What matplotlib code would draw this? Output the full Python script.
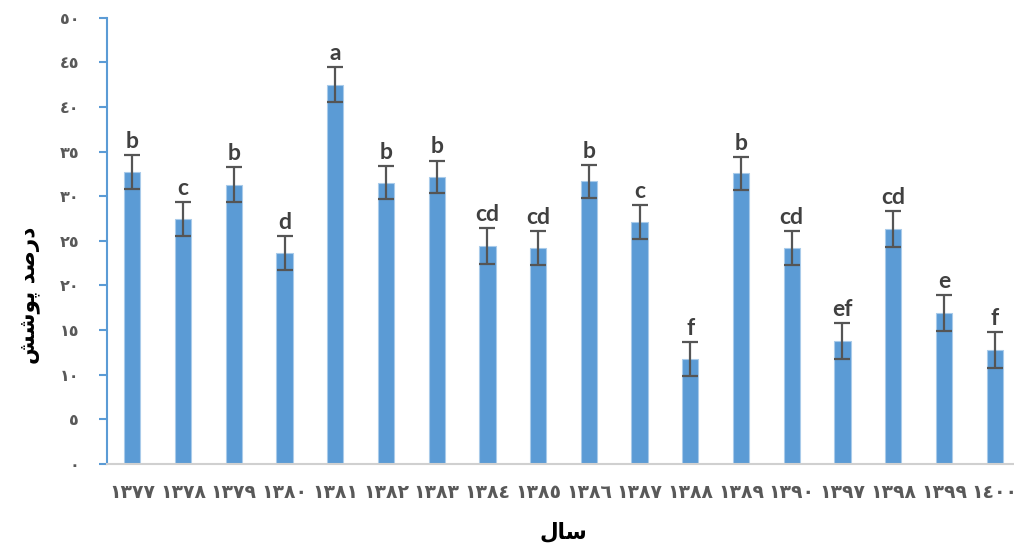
import matplotlib
matplotlib.use("Agg")
import matplotlib.pyplot as plt
import numpy as np

# years as printed on the chart (Arabic-Indic digits)
years = ["١٣٧٧", "١٣٧٨", "١٣٧٩", "١٣٨٠", "١٣٨١", "١٣٨٢", "١٣٨٣", "١٣٨٤", "١٣٨٥",
         "١٣٨٦", "١٣٨٧", "١٣٨٨", "١٣٨٩", "١٣٩٠", "١٣٩٧", "١٣٩٨", "١٣٩٩", "١٤٠٠"]
cover = [32.7, 27.4, 31.3, 23.6, 42.5, 31.5, 32.2, 24.4, 24.2,
         31.65, 27.15, 11.8, 32.55, 24.2, 13.8, 26.3, 16.9, 12.8]
errors = [1.9, 1.9, 2.0, 1.9, 1.95, 1.85, 1.8, 2.0, 1.9,
          1.8, 1.9, 1.9, 1.85, 1.9, 2.0, 2.0, 2.0, 2.0]
groups = ["b", "c", "b", "d", "a", "b", "b", "cd", "cd",
          "b", "c", "f", "b", "cd", "ef", "cd", "e", "f"]
yticks = [0, 5, 10, 15, 20, 25, 30, 35, 40, 45, 50]
ytick_labels = ["٠", "٥", "١٠", "١٥", "٢٠", "٢٥", "٣٠", "٣٥", "٤٠", "٤٥", "٥٠"]

# matplotlib has no Arabic shaping, so labels are given in joined
# presentation forms, already in visual (left-to-right) order
xlabel = "\uFEDD\uFE8E\uFEB3"  # سال
ylabel = "\uFEB6\uFEB7\uFEEE\uFB58 \uFEAA\uFEBB\uFEAD\uFEA9"  # درصد پوشش

blue = "#5B9BD5"
dark = "#404040"

fig = plt.figure(figsize=(10.14, 5.53), dpi=100)
ax = fig.add_axes([107 / 1014, 89 / 553, 913 / 1014, 446.3 / 553])

x = np.arange(len(years))
ax.bar(x, cover, width=0.32, color=blue, edgecolor="#A9CBEA", linewidth=0.8, zorder=2)
ax.errorbar(x, cover, yerr=errors, fmt="none", ecolor="#555555", elinewidth=1.6,
            capsize=5.5, capthick=1.6, zorder=3)

for xi, v, e, g in zip(x, cover, errors, groups):
    ax.text(xi, v + e + 0.35, g, ha="center", va="bottom", fontsize=16.5,
            fontweight="bold", color=dark, family="Lato", zorder=4)

ax.set_xlim(-0.5, len(years) - 0.5)
ax.set_ylim(0, 50)
ax.set_xticks(x)
ax.set_xticklabels(years, fontsize=13.5, fontweight="bold", color="#595959",
                   family="DejaVu Sans")
ax.set_yticks(yticks)
ax.set_yticklabels(ytick_labels, fontsize=11.5, fontweight="bold", color="#595959",
                   family="DejaVu Sans")

for side in ["top", "right"]:
    ax.spines[side].set_visible(False)
ax.spines["left"].set_color(blue)
ax.spines["left"].set_linewidth(1.5)
ax.spines["bottom"].set_color("#D0D0D0")
ax.spines["bottom"].set_linewidth(1.5)
ax.tick_params(axis="y", direction="out", length=6, width=1.5, color=blue, pad=14)
ax.tick_params(axis="x", length=0, pad=14)

ax.set_xlabel(xlabel, fontsize=15.5, fontweight="bold", color="black",
              family="DejaVu Sans", labelpad=14)
fig.text(30 / 1014, 1 - 295 / 553, ylabel, rotation=90, ha="center", va="center",
         fontsize=15.5, fontweight="bold", color="black", family="DejaVu Sans")

fig.savefig("out.png", dpi=100)
